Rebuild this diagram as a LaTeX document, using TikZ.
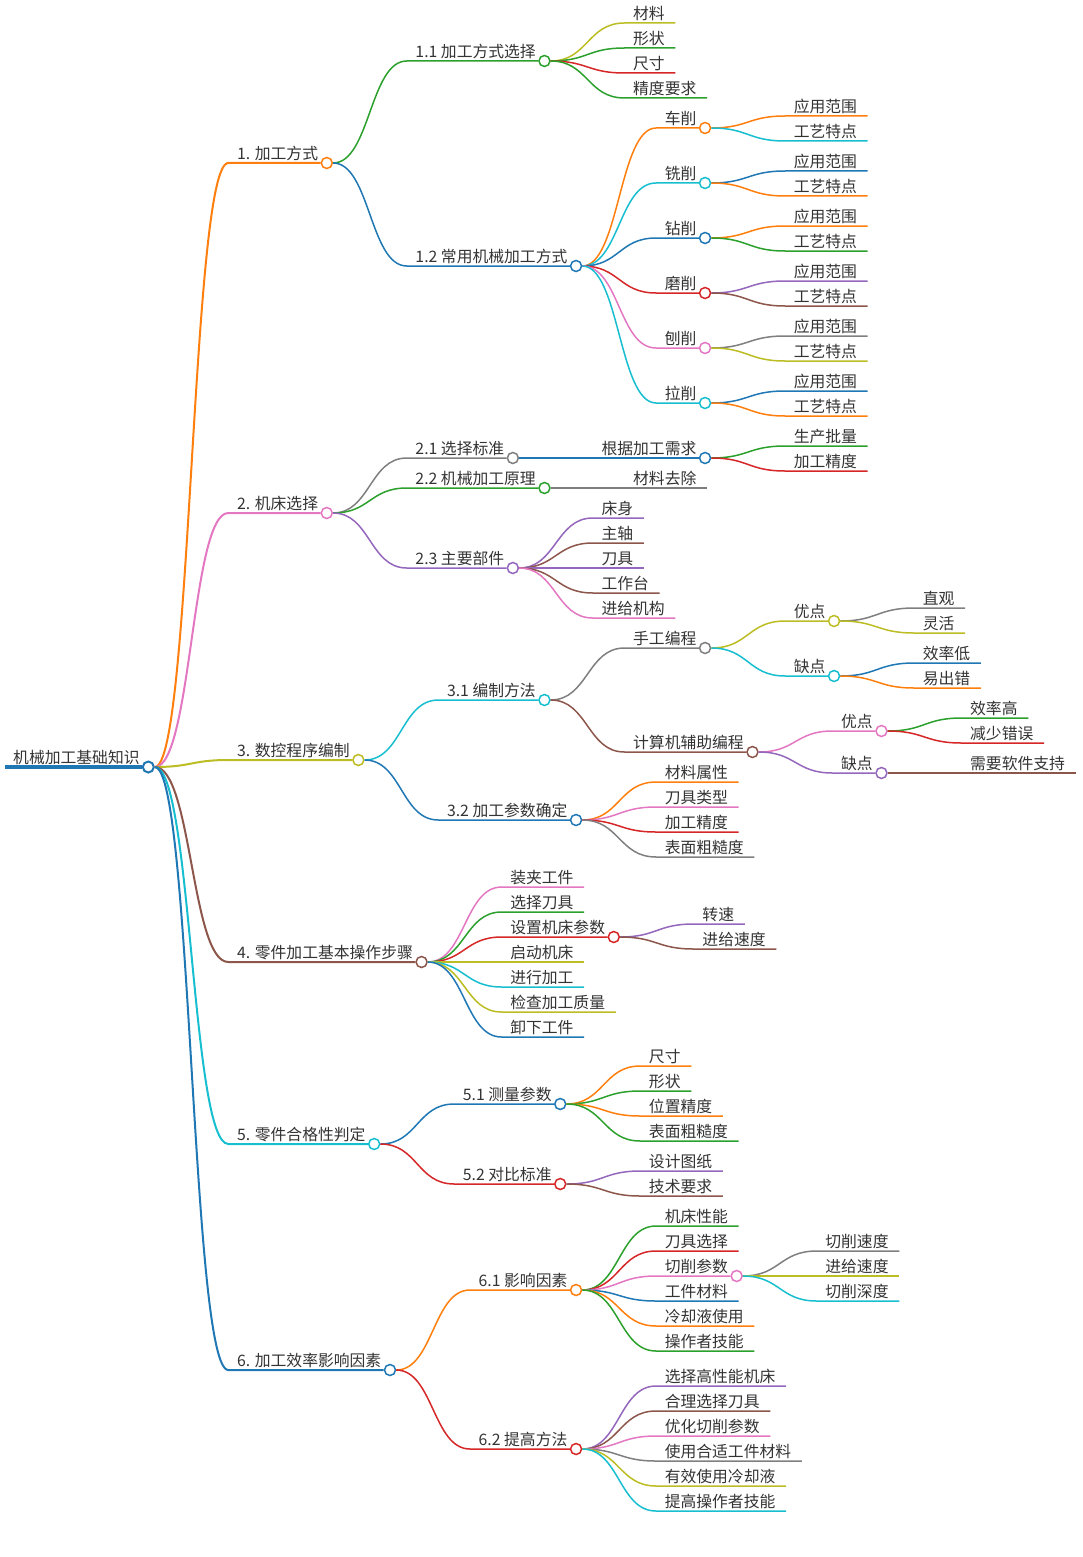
\documentclass[tikz,border=0pt]{standalone}
\usepackage{fontspec}
\newfontfamily\cjk{Noto Sans CJK SC}
\usetikzlibrary{calc}

\definecolor{mblue}{HTML}{1F77B4}
\definecolor{morange}{HTML}{FF7F0E}
\definecolor{mgreen}{HTML}{2CA02C}
\definecolor{mred}{HTML}{D62728}
\definecolor{mpurple}{HTML}{9467BD}
\definecolor{mbrown}{HTML}{8C564B}
\definecolor{mpink}{HTML}{E377C2}
\definecolor{mgray}{HTML}{7F7F7F}
\definecolor{molive}{HTML}{BCBD22}
\definecolor{mcyan}{HTML}{17BECF}

\tikzset{
    mmlabel/.style={anchor=base west, inner sep=0pt, text=black!80, font=\cjk\fontsize{15.8}{19}\selectfont},
    mmdot/.style={circle, draw=#1, fill=white, line width=1.5pt, minimum size=11pt, inner sep=0pt},
    mmedge/.style={draw=#1, line width=1.5pt},
}

% branch with a dot: [width]{parent}{name}{y}{colour}{text}
\newcommand\mm[6][1.5pt]{%
    \path let \p1=(#2-o) in (\x1+80pt,-#4pt) coordinate (#3-s);
    \node[mmlabel] (#3) at ([xshift=8.5pt,yshift=3.5pt]#3-s) {#6};
    \node[mmdot=#5] (#3-o) at ([xshift=8.5pt,yshift=-3.5pt]#3.base east) {};
    \draw[mmedge=#5, line width=#1] (#2-o.east) .. controls +(37,0) and +(-37,0) .. (#3-s) -- (#3-o.west);
}
% leaf: {parent}{name}{y}{colour}{text}
\newcommand\mmleaf[5]{%
    \path let \p1=(#1-o) in (\x1+80pt,-#3pt) coordinate (#2-s);
    \node[mmlabel] (#2) at ([xshift=8.5pt,yshift=3.5pt]#2-s) {#5};
    \coordinate (#2-e) at ([xshift=10.5pt,yshift=-3.5pt]#2.base east);
    \draw[mmedge=#4] (#1-o.east) .. controls +(37,0) and +(-37,0) .. (#2-s) -- (#2-e);
}

\begin{document}
\begin{tikzpicture}[x=1pt, y=-1pt]
    \useasboundingbox (0,0) rectangle (1083,1557);
    % root
    \coordinate (r-s) at (5,767);
    \node[mmlabel] (r) at (13,763.5) {机械加工基础知识};
    \node[mmdot=mblue, line width=2pt] (r-o) at ([xshift=8.5pt,yshift=-3.5pt]r.base east) {};
    \draw[mmedge=mblue, line width=3.5pt] (r-s) -- (r-o.west);

    % 1
    \mm[2pt]{r}{n1}{163}{morange}{1. 加工方式}
    \mm{n1}{n11}{61}{mgreen}{1.1 加工方式选择}
    \mmleaf{n11}{n11a}{23}{molive}{材料}
    \mmleaf{n11}{n11b}{48}{mgreen}{形状}
    \mmleaf{n11}{n11c}{73}{mred}{尺寸}
    \mmleaf{n11}{n11d}{98}{mgreen}{精度要求}
    \mm{n1}{n12}{266}{mblue}{1.2 常用机械加工方式}
    \mm{n12}{n12a}{128}{morange}{车削}
    \mmleaf{n12a}{n12a1}{116}{morange}{应用范围}
    \mmleaf{n12a}{n12a2}{141}{mcyan}{工艺特点}
    \mm{n12}{n12b}{183}{mcyan}{铣削}
    \mmleaf{n12b}{n12b1}{171}{mblue}{应用范围}
    \mmleaf{n12b}{n12b2}{196}{morange}{工艺特点}
    \mm{n12}{n12c}{238}{mblue}{钻削}
    \mmleaf{n12c}{n12c1}{226}{morange}{应用范围}
    \mmleaf{n12c}{n12c2}{251}{mgreen}{工艺特点}
    \mm{n12}{n12d}{293}{mred}{磨削}
    \mmleaf{n12d}{n12d1}{281}{mpurple}{应用范围}
    \mmleaf{n12d}{n12d2}{306}{mbrown}{工艺特点}
    \mm{n12}{n12e}{348}{mpink}{刨削}
    \mmleaf{n12e}{n12e1}{336}{mgray}{应用范围}
    \mmleaf{n12e}{n12e2}{361}{molive}{工艺特点}
    \mm{n12}{n12f}{403}{mcyan}{拉削}
    \mmleaf{n12f}{n12f1}{391}{mblue}{应用范围}
    \mmleaf{n12f}{n12f2}{416}{morange}{工艺特点}

    % 2
    \mm[2pt]{r}{n2}{513}{mpink}{2. 机床选择}
    \mm{n2}{n21}{458}{mgray}{2.1 选择标准}
    \mm{n21}{n21a}{458}{mblue}{根据加工需求}
    \mmleaf{n21a}{n21a1}{446}{mgreen}{生产批量}
    \mmleaf{n21a}{n21a2}{471}{mred}{加工精度}
    \mm{n2}{n22}{488}{mgreen}{2.2 机械加工原理}
    \mmleaf{n22}{n22a}{488}{mgray}{材料去除}
    \mm{n2}{n23}{568}{mpurple}{2.3 主要部件}
    \mmleaf{n23}{n23a}{518}{mpurple}{床身}
    \mmleaf{n23}{n23b}{543}{mbrown}{主轴}
    \mmleaf{n23}{n23c}{568}{mpurple}{刀具}
    \mmleaf{n23}{n23d}{593}{mbrown}{工作台}
    \mmleaf{n23}{n23e}{618}{mpink}{进给机构}

    % 3
    \mm[2pt]{r}{n3}{760}{molive}{3. 数控程序编制}
    \mm{n3}{n31}{700}{mcyan}{3.1 编制方法}
    \mm{n31}{n31a}{648}{mgray}{手工编程}
    \mm{n31a}{n31a1}{621}{molive}{优点}
    \mmleaf{n31a1}{n31a1x}{608}{mgray}{直观}
    \mmleaf{n31a1}{n31a1y}{633}{molive}{灵活}
    \mm{n31a}{n31a2}{676}{mcyan}{缺点}
    \mmleaf{n31a2}{n31a2x}{663}{mblue}{效率低}
    \mmleaf{n31a2}{n31a2y}{688}{morange}{易出错}
    \mm{n31}{n31b}{752}{mbrown}{计算机辅助编程}
    \mm{n31b}{n31b1}{731}{mpink}{优点}
    \mmleaf{n31b1}{n31b1x}{718}{mgreen}{效率高}
    \mmleaf{n31b1}{n31b1y}{743}{mred}{减少错误}
    \mm{n31b}{n31b2}{773}{mpurple}{缺点}
    \mmleaf{n31b2}{n31b2x}{773}{mbrown}{需要软件支持}
    \mm{n3}{n32}{820}{mblue}{3.2 加工参数确定}
    \mmleaf{n32}{n32a}{782}{morange}{材料属性}
    \mmleaf{n32}{n32b}{807}{mpink}{刀具类型}
    \mmleaf{n32}{n32c}{832}{mred}{加工精度}
    \mmleaf{n32}{n32d}{857}{mgray}{表面粗糙度}

    % 4
    \mm[2pt]{r}{n4}{962}{mbrown}{4. 零件加工基本操作步骤}
    \mmleaf{n4}{n4a}{887}{mpink}{装夹工件}
    \mmleaf{n4}{n4b}{912}{mgreen}{选择刀具}
    \mm{n4}{n4c}{937}{mred}{设置机床参数}
    \mmleaf{n4c}{n4c1}{924}{mpurple}{转速}
    \mmleaf{n4c}{n4c2}{949}{mbrown}{进给速度}
    \mmleaf{n4}{n4d}{962}{molive}{启动机床}
    \mmleaf{n4}{n4e}{987}{mcyan}{进行加工}
    \mmleaf{n4}{n4f}{1012}{molive}{检查加工质量}
    \mmleaf{n4}{n4g}{1037}{mblue}{卸下工件}

    % 5
    \mm[2pt]{r}{n5}{1144}{mcyan}{5. 零件合格性判定}
    \mm{n5}{n51}{1104}{mblue}{5.1 测量参数}
    \mmleaf{n51}{n51a}{1066}{morange}{尺寸}
    \mmleaf{n51}{n51b}{1091}{mgreen}{形状}
    \mmleaf{n51}{n51c}{1116}{morange}{位置精度}
    \mmleaf{n51}{n51d}{1141}{mgreen}{表面粗糙度}
    \mm{n5}{n52}{1184}{mred}{5.2 对比标准}
    \mmleaf{n52}{n52a}{1171}{mpurple}{设计图纸}
    \mmleaf{n52}{n52b}{1196}{mbrown}{技术要求}

    % 6
    \mm[2pt]{r}{n6}{1370}{mblue}{6. 加工效率影响因素}
    \mm{n6}{n61}{1290}{morange}{6.1 影响因素}
    \mmleaf{n61}{n61a}{1226}{mgreen}{机床性能}
    \mmleaf{n61}{n61b}{1251}{mred}{刀具选择}
    \mm{n61}{n61c}{1276}{mpink}{切削参数}
    \mmleaf{n61c}{n61c1}{1251}{mgray}{切削速度}
    \mmleaf{n61c}{n61c2}{1276}{molive}{进给速度}
    \mmleaf{n61c}{n61c3}{1301}{mcyan}{切削深度}
    \mmleaf{n61}{n61d}{1301}{mblue}{工件材料}
    \mmleaf{n61}{n61e}{1326}{morange}{冷却液使用}
    \mmleaf{n61}{n61f}{1351}{mgreen}{操作者技能}
    \mm{n6}{n62}{1449}{mred}{6.2 提高方法}
    \mmleaf{n62}{n62a}{1386}{mpurple}{选择高性能机床}
    \mmleaf{n62}{n62b}{1411}{mbrown}{合理选择刀具}
    \mmleaf{n62}{n62c}{1436}{mpink}{优化切削参数}
    \mmleaf{n62}{n62d}{1461}{mgray}{使用合适工件材料}
    \mmleaf{n62}{n62e}{1486}{molive}{有效使用冷却液}
    \mmleaf{n62}{n62f}{1511}{mcyan}{提高操作者技能}
\end{tikzpicture}
\end{document}
